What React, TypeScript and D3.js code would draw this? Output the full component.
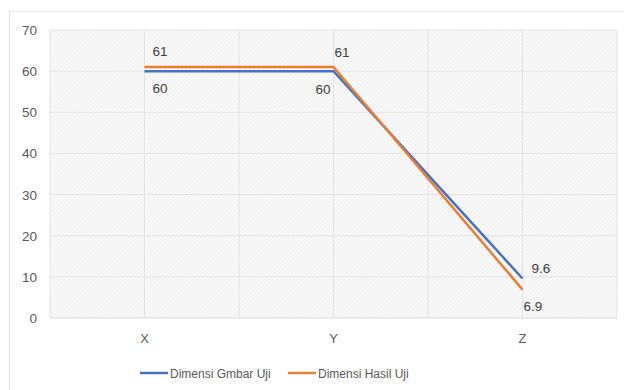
import React from "react";
import * as d3 from "d3";

const categories = ["X", "Y", "Z"];
const seriesNames = ["Dimensi Gmbar Uji", "Dimensi Hasil Uji"];
const gambarValues = [60, 60, 9.6];
const hasilValues = [61, 61, 6.9];
const yTicks = [0, 10, 20, 30, 40, 50, 60, 70];

const W = 624;
const H = 390;
const FONT = "'Liberation Sans', Arial, sans-serif";
const BLUE = "#4472C4";
const ORANGE = "#ED7D31";

export default function App() {
  const left = 50, right = 617, top = 30, bottom = 318;
  // category positions sit on odd half-steps, gridlines on every step
  const x = d3.scaleLinear().domain([0, 6]).range([left, right]);
  const catX = (i: number) => x(i * 2 + 1);
  const y = d3.scaleLinear().domain([0, 70]).range([bottom, top]);

  const line = d3
    .line<number>()
    .x((_, i) => catX(i))
    .y((d) => y(d));

  const series = [
    { name: seriesNames[0], values: gambarValues, color: BLUE },
    { name: seriesNames[1], values: hasilValues, color: ORANGE },
  ];

  // label offsets per point: [dx, dy] for each series
  const gambarLabelPos: [number, number][] = [[8, 17], [-18, 18], [9, -10]];
  const hasilLabelPos: [number, number][] = [[8, -16], [1, -15], [1, 17]];

  const verticalGrid = d3.range(0, 7);

  return (
    <svg width={W} height={H} style={{ position: "absolute", left: 0, top: 0 }}>
      <defs>
        <pattern id="hatch" width="3" height="3" patternUnits="userSpaceOnUse" patternTransform="rotate(45)">
          <rect width="3" height="3" fill="#f8f8f8" />
          <line x1="0" y1="0" x2="0" y2="3" stroke="#e8e8e8" strokeWidth="1" />
        </pattern>
      </defs>
      <rect width={W} height={H} fill="#ffffff" />
      <line x1={10} x2={W} y1={11.5} y2={11.5} stroke="#e6e6e6" />
      <line x1={9.5} x2={9.5} y1={11} y2={H} stroke="#e0e0e0" />

      <rect x={left} y={top} width={right - left} height={bottom - top} fill="url(#hatch)" />

      {yTicks.map((t) => (
        <g key={t}>
          <line x1={left} x2={right} y1={y(t)} y2={y(t)} stroke={t === 0 ? "#d9d9d9" : "#e3e3e3"} strokeWidth={1} />
          <text x={37} y={y(t) + 5} textAnchor="end" fontFamily={FONT} fontSize={13.5} fill="#595959">
            {t}
          </text>
        </g>
      ))}
      {verticalGrid.map((g) => (
        <line key={g} x1={x(g)} x2={x(g)} y1={top} y2={bottom} stroke="#e3e3e3" strokeWidth={1} />
      ))}

      {categories.map((c, i) => (
        <text key={c} x={catX(i)} y={343} textAnchor="middle" fontFamily={FONT} fontSize={13} fill="#595959">
          {c}
        </text>
      ))}

      {series.map((s) => (
        <path key={s.name} d={line(s.values) || ""} fill="none" stroke={s.color} strokeWidth={2.5} strokeLinejoin="round" />
      ))}

      {gambarValues.map((v, i) => (
        <text key={"g" + i} x={catX(i) + gambarLabelPos[i][0]} y={y(v) + gambarLabelPos[i][1] + 4.5} fontFamily={FONT} fontSize={13.5} fill="#404040">
          {v}
        </text>
      ))}
      {hasilValues.map((v, i) => (
        <text key={"h" + i} x={catX(i) + hasilLabelPos[i][0]} y={y(v) + hasilLabelPos[i][1] + 4.5} fontFamily={FONT} fontSize={13.5} fill="#404040">
          {v}
        </text>
      ))}

      {series.map((s, i) => {
        const lx = i === 0 ? 140 : 288;
        return (
          <g key={"leg" + i}>
            <line x1={lx} x2={lx + 28} y1={373} y2={373} stroke={s.color} strokeWidth={2.5} />
            <text x={lx + 30} y={377.5} fontFamily={FONT} fontSize={12} fill="#595959">
              {s.name}
            </text>
          </g>
        );
      })}
    </svg>
  );
}
